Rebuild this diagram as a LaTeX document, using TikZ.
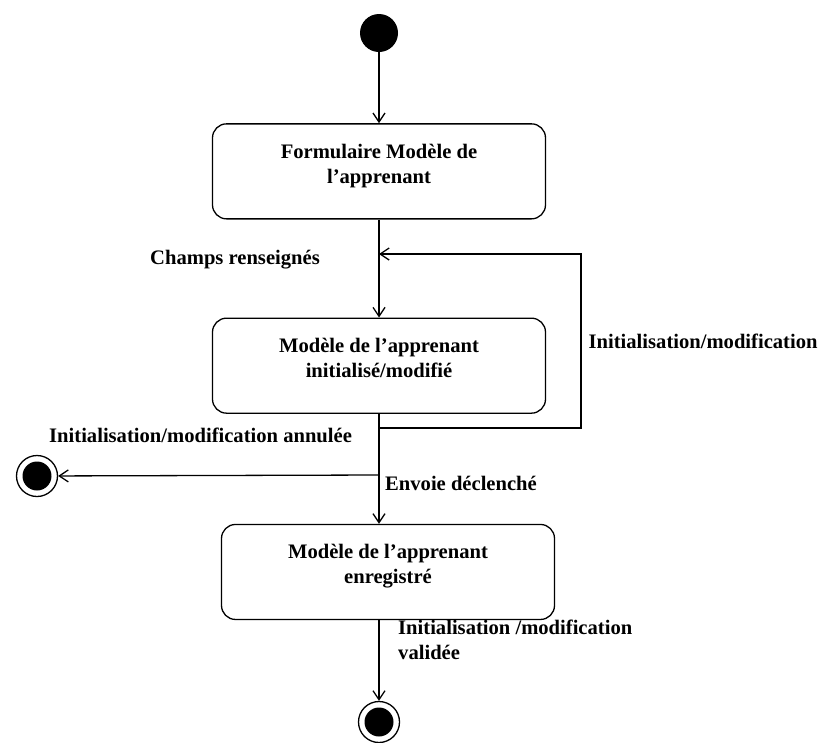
\documentclass[tikz,border=0pt]{standalone}
\usepackage{fontspec}
\setmainfont{Liberation Serif}
\usetikzlibrary{arrows.meta, positioning}

\begin{document}
\begin{tikzpicture}[
    x=1pt, y=-1pt,
    font=\fontsize{20.6}{25}\selectfont\bfseries,
    etat/.style={rectangle, rounded corners=14pt, draw, line width=1.3pt, minimum width=333pt, minimum height=95pt, text depth=16pt, align=center},
    debut/.style={circle, fill=black, minimum size=38pt, inner sep=0pt},
    fin/.style={circle, draw, line width=1.3pt, minimum size=41pt, inner sep=0pt, path picture={\fill (path picture bounding box.center) circle (14.5pt);}},
    arrow/.style={-{Straight Barb[length=9pt, width=12pt]}, line width=1.3pt},
    lbl/.style={inner sep=0pt}
]
\useasboundingbox (0,0) rectangle (821,742);

% Etats
\node[debut] (init) at (379,33) {};
\node[etat, below=71pt of init] (formulaire) {Formulaire Modèle de\\l’apprenant};
\node[etat, below=98pt of formulaire] (initialise) {Modèle de l’apprenant\\initialisé/modifié};
\node[etat, below=110pt of initialise, xshift=9pt] (enregistre) {Modèle de l’apprenant\\enregistré};
\node[fin] (annule) at (37,476) {};
\node[fin] (termine) at (379,722) {};

% Points de la boucle
\coordinate (boucle) at (379,428);
\coordinate (retour) at (379,254);
\coordinate (coinbas) at (581,428);
\coordinate (coinhaut) at (581,254);
\coordinate (bifurcation) at (379,475);

% Transitions
\draw[arrow] (init) -- (formulaire);
\draw[arrow] (formulaire) -- (initialise);
\draw[arrow] (initialise.south) -- (initialise.south |- enregistre.north);
\draw[arrow] (boucle) -- (coinbas) -- node[lbl, right=7pt] (initmodif) {Initialisation/modification} (coinhaut) -- (retour);
\draw[arrow] (bifurcation) -- (annule);
\draw[arrow] (termine |- enregistre.south) -- (termine);

% Libelles
\node[lbl, anchor=east] (champs) at (320,260) {Champs renseignés};
\node[lbl, anchor=west] (annulee) at (49,435) {Initialisation/modification annulée};
\node[lbl, anchor=west] (envoi) at (385,483) {Envoie déclenché};
\node[lbl, anchor=north west, align=left] (validee) at (398,620) {Initialisation /modification\\validée};

\end{tikzpicture}
\end{document}
